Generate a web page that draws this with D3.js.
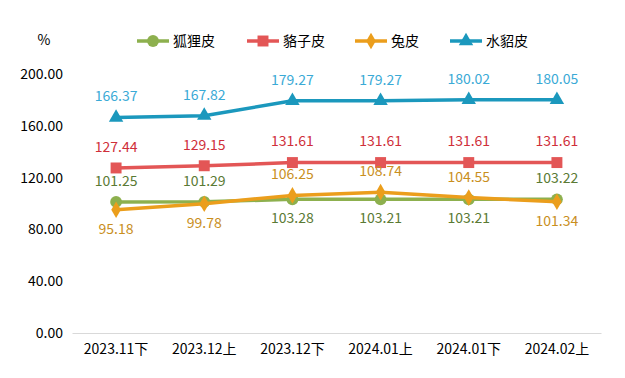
<!DOCTYPE html>
<html>
<head>
<meta charset="utf-8">
<script src="https://cdn.jsdelivr.net/npm/d3@7"></script>
<style>
    body { margin: 0; background: #fff; }
    svg text { font-family: "Noto Sans CJK SC", "Noto Sans", sans-serif; }
</style>
</head>
<body>
<div id="chart"></div>
<script>
// data
let periods = ["2023.11下", "2023.12上", "2023.12下", "2024.01上", "2024.01下", "2024.02上"];
let fox = [101.25, 101.29, 103.28, 103.21, 103.21, 103.22];
let raccoon = [127.44, 129.15, 131.61, 131.61, 131.61, 131.61];
let rabbit = [95.18, 99.78, 106.25, 108.74, 104.55, 101.34];
let mink = [166.37, 167.82, 179.27, 179.27, 180.02, 180.05];
let yTicks = [0, 40, 80, 120, 160, 200];

// label placement (1 = above, -1 = below)
let foxPos = [1, 1, -1, -1, -1, 1];
let ratPos = [1, 1, 1, 1, 1, 1];
let rabPos = [-1, -1, 1, 1, 1, -1];
let minkPos = [1, 1, 1, 1, 1, 1];

let series = [
    {name: "狐狸皮", values: fox, pos: foxPos, color: "#8db04e", label: "#5a7a34", marker: "circle"},
    {name: "貉子皮", values: raccoon, pos: ratPos, color: "#e35656", label: "#cf2f3a", marker: "square"},
    {name: "兔皮", values: rabbit, pos: rabPos, color: "#eb9e1c", label: "#c98f1e", marker: "diamond"},
    {name: "水貂皮", values: mink, pos: minkPos, color: "#1b98bd", label: "#3aaad6", marker: "triangle"}
];

let width = 625, height = 378;
let margin = {top: 74, right: 24, bottom: 45, left: 72};

let svg = d3.select("#chart").append("svg")
    .attr("width", width)
    .attr("height", height);

let x = d3.scaleBand()
    .domain(periods)
    .range([margin.left, width - margin.right]);

let y = d3.scaleLinear()
    .domain([0, 200])
    .range([height - margin.bottom, margin.top]);

// y tick labels
svg.append("g")
    .selectAll("text")
    .data(yTicks)
    .enter()
    .append("text")
    .attr("x", 63)
    .attr("y", d => y(d))
    .attr("dy", "0.35em")
    .attr("text-anchor", "end")
    .attr("font-size", 14)
    .attr("fill", "#000")
    .text(d => d.toFixed(2));

svg.append("text")
    .attr("x", 44)
    .attr("y", 40)
    .attr("dy", "0.35em")
    .attr("text-anchor", "middle")
    .attr("font-size", 14)
    .text("%");

// x axis
let xAxis = d3.axisBottom(x).tickSize(0).tickPadding(11);
let xg = svg.append("g")
    .attr("transform", "translate(0," + y(0) + ")")
    .call(xAxis);
xg.select(".domain").attr("stroke", "#d9d9d9");
xg.selectAll("text")
    .attr("font-size", 14)
    .attr("fill", "#000")
    .style("font-family", "'Noto Sans CJK SC', sans-serif");

let cx = d => x(d) + x.bandwidth() / 2;

let line = d3.line()
    .x((d, i) => cx(periods[i]))
    .y(d => y(d));

let symbols = {
    circle: d3.symbol().type(d3.symbolCircle).size(110),
    square: d3.symbol().type(d3.symbolSquare).size(120),
    diamond: d3.symbol().type(d3.symbolDiamond).size(80),
    triangle: d3.symbol().type(d3.symbolTriangle).size(90)
};

series.forEach(s => {
    let g = svg.append("g");

    g.append("path")
        .datum(s.values)
        .attr("fill", "none")
        .attr("stroke", s.color)
        .attr("stroke-width", 3.5)
        .attr("stroke-linejoin", "round")
        .attr("d", line);

    g.selectAll("path.mark")
        .data(s.values)
        .enter()
        .append("path")
        .attr("class", "mark")
        .attr("fill", s.color)
        .attr("transform", (d, i) => "translate(" + cx(periods[i]) + "," + y(d) + ")")
        .attr("d", symbols[s.marker]);

    g.selectAll("text")
        .data(s.values)
        .enter()
        .append("text")
        .attr("x", (d, i) => cx(periods[i]))
        .attr("y", (d, i) => y(d) + (s.pos[i] > 0 ? -21 : 19))
        .attr("dy", "0.35em")
        .attr("text-anchor", "middle")
        .attr("font-size", 14)
        .attr("fill", s.label)
        .text(d => d.toFixed(2));
});

// legend
let legendX = [137, 247, 355, 450];
let legend = svg.append("g");
series.forEach((s, i) => {
    let lg = legend.append("g")
        .attr("transform", "translate(" + legendX[i] + ",41)");
    lg.append("line")
        .attr("x1", 0).attr("x2", 32)
        .attr("stroke", s.color)
        .attr("stroke-width", 3.5);
    lg.append("path")
        .attr("transform", "translate(16,0)")
        .attr("fill", s.color)
        .attr("d", symbols[s.marker]);
    lg.append("text")
        .attr("x", 36)
        .attr("dy", "0.35em")
        .attr("font-size", 14)
        .attr("fill", "#000")
        .text(s.name);
});
</script>
</body>
</html>
